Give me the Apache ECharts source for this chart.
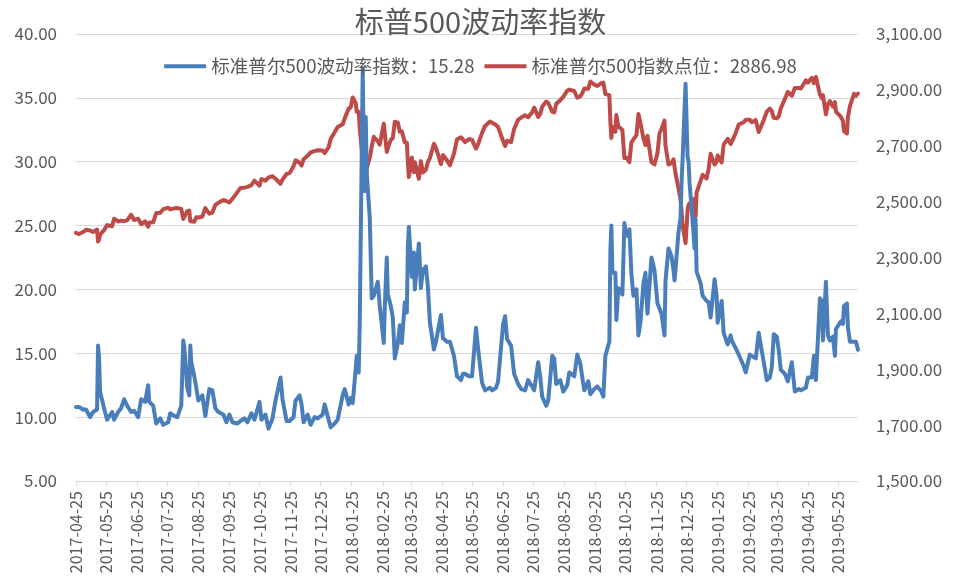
<!DOCTYPE html>
<html>
<head>
<meta charset="utf-8">
<script src="https://cdn.jsdelivr.net/npm/echarts@6/dist/echarts.min.js"></script>
<style>
html,body{margin:0;padding:0;background:#fff;}
#chart{width:961px;height:581px;}
</style>
</head>
<body>
<div id="chart"></div>
<script>
const chartTitle = '标普500波动率指数';
const vixName = '标准普尔500波动率指数：15.28';
const spxName = '标准普尔500指数点位：2886.98';

const dates = [
'2017-04-25','2017-04-28','2017-05-02','2017-05-05','2017-05-09','2017-05-12','2017-05-16','2017-05-17','2017-05-18','2017-05-19',
'2017-05-23','2017-05-26','2017-05-31','2017-06-02','2017-06-06','2017-06-09','2017-06-12','2017-06-15','2017-06-19','2017-06-22',
'2017-06-26','2017-06-29','2017-07-03','2017-07-06','2017-07-07','2017-07-11','2017-07-14','2017-07-18','2017-07-21','2017-07-26',
'2017-07-28','2017-08-01','2017-08-04','2017-08-08','2017-08-10','2017-08-11','2017-08-14','2017-08-16','2017-08-17','2017-08-18',
'2017-08-21','2017-08-23','2017-08-25','2017-08-29','2017-09-01','2017-09-05','2017-09-08','2017-09-11','2017-09-14','2017-09-19',
'2017-09-22','2017-09-25','2017-09-28','2017-10-03','2017-10-06','2017-10-10','2017-10-13','2017-10-17','2017-10-20','2017-10-25',
'2017-10-27','2017-10-31','2017-11-03','2017-11-07','2017-11-10','2017-11-15','2017-11-17','2017-11-21','2017-11-24','2017-11-28',
'2017-11-30','2017-12-04','2017-12-06','2017-12-08','2017-12-12','2017-12-15','2017-12-19','2017-12-22','2017-12-27','2017-12-29',
'2018-01-02','2018-01-04','2018-01-08','2018-01-11','2018-01-16','2018-01-18','2018-01-22','2018-01-24','2018-01-26','2018-01-29',
'2018-01-30','2018-02-01','2018-02-02','2018-02-05','2018-02-06','2018-02-07','2018-02-08','2018-02-09','2018-02-12','2018-02-14',
'2018-02-16','2018-02-20','2018-02-22','2018-02-26','2018-02-27','2018-03-01','2018-03-02','2018-03-05','2018-03-07','2018-03-09',
'2018-03-12','2018-03-14','2018-03-16','2018-03-19','2018-03-21','2018-03-22','2018-03-23','2018-03-26','2018-03-28','2018-03-29',
'2018-04-02','2018-04-04','2018-04-06','2018-04-09','2018-04-11','2018-04-13','2018-04-17','2018-04-19','2018-04-24','2018-04-26',
'2018-04-30','2018-05-03','2018-05-07','2018-05-10','2018-05-14','2018-05-16','2018-05-18','2018-05-22','2018-05-25','2018-05-29',
'2018-05-31','2018-06-04','2018-06-07','2018-06-12','2018-06-14','2018-06-18','2018-06-20','2018-06-25','2018-06-27','2018-06-29',
'2018-07-03','2018-07-06','2018-07-10','2018-07-13','2018-07-17','2018-07-20','2018-07-24','2018-07-26','2018-07-30','2018-08-01',
'2018-08-03','2018-08-07','2018-08-09','2018-08-13','2018-08-15','2018-08-17','2018-08-21','2018-08-24','2018-08-28','2018-08-30',
'2018-09-04','2018-09-07','2018-09-10','2018-09-12','2018-09-14','2018-09-18','2018-09-20','2018-09-24','2018-09-27','2018-10-01',
'2018-10-03','2018-10-05','2018-10-09','2018-10-10','2018-10-11','2018-10-12','2018-10-15','2018-10-16','2018-10-18','2018-10-22',
'2018-10-24','2018-10-26','2018-10-29','2018-10-31','2018-11-02','2018-11-05','2018-11-07','2018-11-09','2018-11-12','2018-11-14',
'2018-11-16','2018-11-20','2018-11-23','2018-11-26','2018-11-28','2018-11-30','2018-12-03','2018-12-04','2018-12-07','2018-12-10',
'2018-12-12','2018-12-13','2018-12-14','2018-12-17','2018-12-19','2018-12-20','2018-12-21','2018-12-24','2018-12-26','2018-12-27',
'2018-12-28','2018-12-31','2019-01-02','2019-01-03','2019-01-04','2019-01-08','2019-01-10','2019-01-14','2019-01-16','2019-01-18',
'2019-01-22','2019-01-24','2019-01-25','2019-01-29','2019-01-31','2019-02-04','2019-02-07','2019-02-08','2019-02-12','2019-02-15',
'2019-02-20','2019-02-22','2019-02-26','2019-02-28','2019-03-04','2019-03-07','2019-03-08','2019-03-12','2019-03-15','2019-03-18',
'2019-03-20','2019-03-22','2019-03-25','2019-03-27','2019-03-29','2019-04-02','2019-04-05','2019-04-09','2019-04-12','2019-04-16',
'2019-04-18','2019-04-23','2019-04-25','2019-04-29','2019-04-30','2019-05-01','2019-05-03','2019-05-07','2019-05-09','2019-05-10',
'2019-05-13','2019-05-15','2019-05-17','2019-05-20','2019-05-22','2019-05-23','2019-05-28','2019-05-30','2019-05-31','2019-06-03',
'2019-06-04','2019-06-06','2019-06-10','2019-06-12','2019-06-14'
];

const vixValues = [
10.8,10.8,10.6,10.6,10.0,10.4,10.6,15.6,14.7,12.0,
10.7,9.8,10.4,9.8,10.4,10.7,11.4,10.9,10.4,10.5,
10.0,11.4,11.2,12.5,11.2,10.9,9.5,9.9,9.4,9.6,
10.3,10.1,10.0,10.9,16.0,15.5,12.3,11.7,15.6,14.3,
13.2,12.3,11.3,11.7,10.1,12.2,12.1,10.7,10.4,10.2,
9.6,10.2,9.6,9.5,9.7,9.9,9.6,10.3,9.8,11.2,
9.8,10.2,9.1,9.9,11.3,13.1,11.4,9.7,9.7,10.0,
11.3,11.7,11.0,9.6,10.2,9.4,10.0,9.9,10.2,11.0,
9.8,9.2,9.5,9.8,11.7,12.2,11.0,11.5,11.1,13.8,
14.8,13.5,17.3,37.3,30.0,27.7,33.5,29.1,25.6,19.3,
19.5,20.6,18.7,15.8,18.6,22.5,19.6,18.7,17.8,14.6,
15.8,17.2,15.8,19.0,18.2,23.3,24.9,21.0,22.9,20.0,
23.6,20.1,21.5,21.8,20.2,17.4,15.3,15.9,18.0,16.2,
15.9,15.9,14.8,13.2,12.9,13.4,13.4,13.2,13.2,17.0,
15.4,12.7,12.1,12.3,12.1,12.3,12.8,17.3,17.9,16.1,
15.6,13.4,12.6,12.2,12.1,12.9,12.4,12.1,14.3,13.2,
11.6,10.9,11.3,14.8,14.6,12.6,12.9,12.0,12.5,13.5,
13.2,14.9,14.2,13.1,12.1,12.8,11.8,12.2,12.4,12.0,
11.6,14.8,15.9,23.0,25.0,21.3,21.3,17.6,20.1,19.6,
25.2,24.2,24.7,21.2,19.5,20.0,16.4,17.4,20.5,21.3,
18.1,22.5,21.5,18.9,18.5,18.1,16.4,20.7,23.2,22.6,
21.5,20.7,21.6,24.5,25.6,28.4,30.1,36.1,30.4,30.0,
28.3,25.4,23.2,25.5,21.4,20.5,19.5,19.1,19.0,17.8,
20.8,19.5,17.4,19.1,16.6,15.7,16.4,16.0,15.4,14.9,
14.0,13.5,14.9,14.8,14.6,16.6,16.1,14.3,12.9,13.1,
13.9,16.5,16.3,15.2,13.7,13.4,12.8,14.3,12.0,12.2,
12.1,12.3,13.1,13.1,13.1,14.8,12.9,19.3,19.1,16.0,
20.6,16.4,16.0,16.3,14.8,16.9,17.5,17.3,18.7,18.9,
17.0,15.9,15.9,15.9,15.28
];

const spxValues = [
2388,2384,2391,2399,2397,2391,2400,2357,2365,2382,
2398,2416,2412,2439,2429,2432,2430,2433,2453,2434,
2439,2419,2429,2410,2425,2426,2459,2460,2473,2478,
2472,2476,2477,2474,2438,2441,2466,2468,2430,2425,
2428,2444,2443,2446,2477,2457,2461,2488,2496,2506,
2502,2497,2510,2534,2549,2550,2553,2559,2575,2557,
2581,2575,2587,2591,2582,2564,2579,2599,2602,2627,
2648,2639,2629,2652,2664,2676,2681,2684,2683,2674,
2695,2724,2748,2767,2777,2798,2833,2837,2873,2853,
2822,2822,2762,2649,2695,2682,2581,2620,2656,2698,
2732,2716,2704,2779,2744,2678,2691,2721,2727,2786,
2783,2750,2752,2712,2711,2643,2588,2658,2605,2641,
2582,2645,2604,2614,2642,2656,2707,2693,2634,2667,
2648,2630,2672,2723,2730,2722,2713,2724,2721,2690,
2705,2746,2771,2787,2782,2774,2767,2717,2699,2718,
2713,2760,2793,2801,2809,2802,2820,2837,2803,2814,
2840,2858,2853,2822,2819,2850,2863,2875,2897,2901,
2896,2872,2877,2888,2905,2904,2930,2919,2914,2924,
2926,2885,2881,2786,2728,2768,2750,2810,2769,2756,
2656,2658,2641,2712,2723,2738,2814,2781,2726,2702,
2736,2641,2633,2674,2744,2760,2790,2700,2633,2638,
2651,2650,2600,2546,2507,2467,2417,2351,2468,2489,
2486,2507,2510,2448,2532,2574,2596,2583,2617,2671,
2633,2643,2665,2640,2704,2725,2706,2708,2745,2776,
2784,2793,2793,2784,2792,2749,2743,2792,2822,2833,
2824,2800,2798,2806,2834,2867,2893,2879,2907,2907,
2905,2934,2926,2943,2946,2924,2946,2884,2870,2881,
2812,2850,2860,2840,2856,2822,2803,2789,2752,2744,
2803,2843,2886,2879,2886.98
];

// calendar-day category axis (Excel-style date axis)
const axisStart = '2017-04-25';
const axisEnd = '2019-06-14';
const categories = [];
(function () {
  const s = new Date(axisStart + 'T00:00:00Z').getTime();
  const e = new Date(axisEnd + 'T00:00:00Z').getTime();
  for (let t = s; t <= e; t += 86400000) {
    categories.push(new Date(t).toISOString().slice(0, 10));
  }
})();

const isLabelDay = (idx, val) => val.slice(8) === '25';
const fontFamily = '"Noto Sans CJK SC", "Noto Sans", sans-serif';
const textColor = '#595959';

const chart = echarts.init(document.getElementById('chart'), null, { renderer: 'canvas' });
chart.setOption({
  animation: false,
  backgroundColor: '#ffffff',
  textStyle: { fontFamily: fontFamily },
  title: {
    text: chartTitle,
    left: 'center',
    top: 2,
    textStyle: { fontFamily: fontFamily, fontSize: 29, fontWeight: 'normal', color: textColor }
  },
  legend: {
    top: 52,
    left: 'center',
    itemWidth: 42,
    itemHeight: 4,
    itemGap: 10,
    icon: 'rect',
    textStyle: { fontFamily: fontFamily, fontSize: 18.6, color: textColor },
    data: [
      { name: vixName, itemStyle: { color: '#4A7EBB' } },
      { name: spxName, itemStyle: { color: '#BE4B48' } }
    ]
  },
  grid: { left: 76, right: 103, top: 34, bottom: 100, containLabel: false },
  xAxis: {
    type: 'category',
    data: categories,
    boundaryGap: false,
    axisLine: { show: true, lineStyle: { color: '#D9D9D9', width: 1 } },
    axisTick: { show: true, interval: isLabelDay, length: 5, lineStyle: { color: '#D9D9D9' } },
    axisLabel: {
      interval: isLabelDay,
      rotate: 90,
      margin: 10,
      fontSize: 16,
      color: textColor,
      fontFamily: fontFamily
    },
    splitLine: { show: false }
  },
  yAxis: [
    {
      type: 'value',
      min: 5, max: 40, interval: 5,
      position: 'left',
      axisLine: { show: false },
      axisTick: { show: false },
      axisLabel: { fontSize: 17, color: textColor, margin: 19, fontFamily: fontFamily,
        formatter: v => v.toFixed(2) },
      splitLine: { show: true, lineStyle: { color: '#D9D9D9', width: 1 } }
    },
    {
      type: 'value',
      min: 1500, max: 3100, interval: 100,
      position: 'right',
      axisLine: { show: false },
      axisTick: { show: false },
      axisLabel: { fontSize: 17, color: textColor, margin: 18, fontFamily: fontFamily,
        formatter: v => ((v - 1500) % 200 === 0
          ? v.toLocaleString('en-US', { minimumFractionDigits: 2, maximumFractionDigits: 2 })
          : '') },
      splitLine: { show: false }
    }
  ],
  series: [
    {
      name: spxName,
      type: 'line',
      yAxisIndex: 1,
      data: dates.map((d, i) => [d, spxValues[i]]),
      showSymbol: false,
      symbol: 'none',
      connectNulls: true,
      lineStyle: { color: '#BE4B48', width: 4, join: 'round', cap: 'round' },
      itemStyle: { color: '#BE4B48' },
      z: 2
    },
    {
      name: vixName,
      type: 'line',
      yAxisIndex: 0,
      data: dates.map((d, i) => [d, vixValues[i]]),
      showSymbol: false,
      symbol: 'none',
      connectNulls: true,
      lineStyle: { color: '#4A7EBB', width: 4, join: 'round', cap: 'round' },
      itemStyle: { color: '#4A7EBB' },
      z: 3
    }
  ]
});
</script>
</body>
</html>
